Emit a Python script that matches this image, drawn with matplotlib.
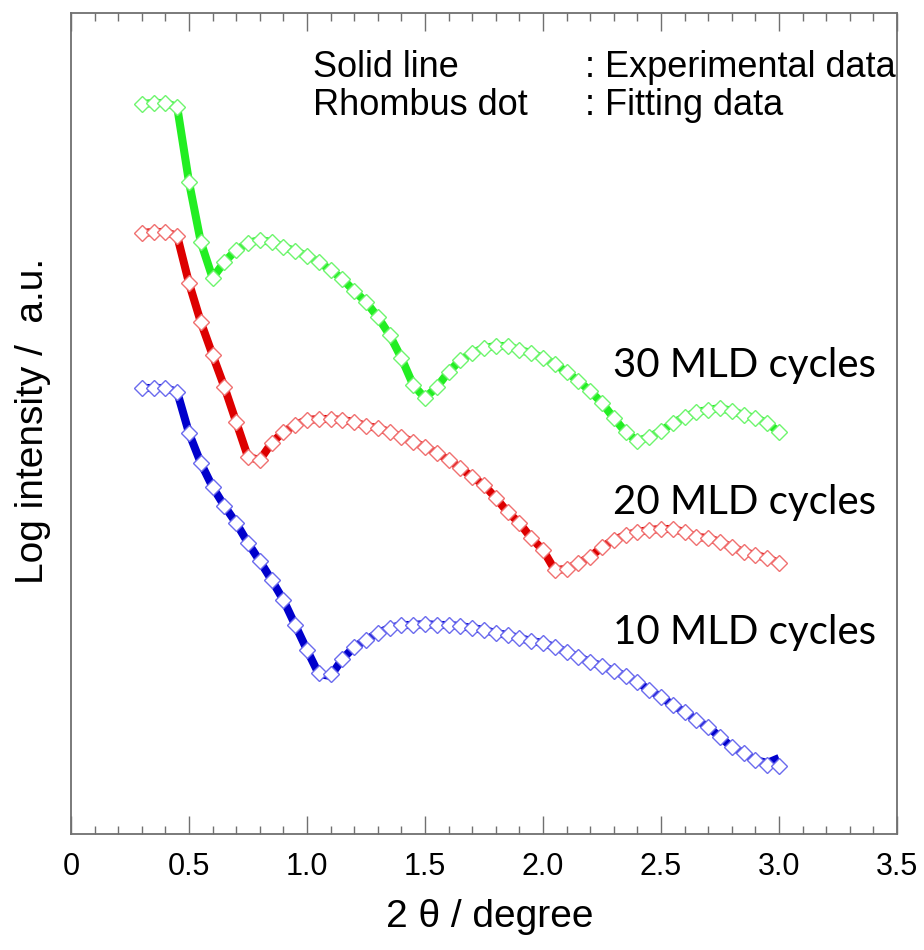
import matplotlib
matplotlib.use("Agg")
import matplotlib.pyplot as plt
import numpy as np

# 2theta grid (degree)
two_theta = [0.30, 0.35, 0.40, 0.45, 0.50, 0.55, 0.60, 0.65, 0.70, 0.75,
             0.80, 0.85, 0.90, 0.95, 1.00, 1.05, 1.10, 1.15, 1.20, 1.25,
             1.30, 1.35, 1.40, 1.45, 1.50, 1.55, 1.60, 1.65, 1.70, 1.75,
             1.80, 1.85, 1.90, 1.95, 2.00, 2.05, 2.10, 2.15, 2.20, 2.25,
             2.30, 2.35, 2.40, 2.45, 2.50, 2.55, 2.60, 2.65, 2.70, 2.75,
             2.80, 2.85, 2.90, 2.95, 3.00]

# log intensity (a.u., offset curves) - fitting data (rhombus dots)
fit_30 = [7.30, 7.31, 7.31, 7.27, 6.52, 5.92, 5.56, 5.72, 5.84, 5.91,
          5.94, 5.92, 5.87, 5.83, 5.78, 5.72, 5.64, 5.55, 5.43, 5.32,
          5.17, 4.99, 4.76, 4.49, 4.36, 4.47, 4.62, 4.74, 4.81, 4.86,
          4.88, 4.88, 4.84, 4.81, 4.76, 4.70, 4.62, 4.53, 4.43, 4.31,
          4.16, 4.02, 3.93, 3.97, 4.03, 4.11, 4.17, 4.22, 4.24, 4.26,
          4.23, 4.19, 4.16, 4.11, 4.02]
fit_20 = [6.01, 6.02, 6.02, 5.98, 5.51, 5.12, 4.79, 4.47, 4.12, 3.77,
          3.74, 3.91, 4.02, 4.09, 4.14, 4.15, 4.15, 4.14, 4.12, 4.08,
          4.06, 4.02, 3.97, 3.92, 3.87, 3.81, 3.74, 3.66, 3.57, 3.49,
          3.36, 3.22, 3.11, 2.96, 2.84, 2.64, 2.65, 2.71, 2.77, 2.87,
          2.94, 2.99, 3.02, 3.04, 3.05, 3.05, 3.02, 2.97, 2.96, 2.92,
          2.87, 2.82, 2.79, 2.76, 2.71]
fit_10 = [4.46, 4.46, 4.46, 4.42, 4.01, 3.71, 3.47, 3.28, 3.11, 2.91,
          2.73, 2.54, 2.34, 2.09, 1.84, 1.61, 1.60, 1.75, 1.87, 1.94,
          2.01, 2.06, 2.09, 2.09, 2.10, 2.09, 2.09, 2.08, 2.06, 2.04,
          2.01, 1.99, 1.96, 1.93, 1.91, 1.87, 1.82, 1.77, 1.72, 1.68,
          1.63, 1.58, 1.52, 1.44, 1.37, 1.29, 1.22, 1.14, 1.07, 0.97,
          0.87, 0.81, 0.74, 0.69, 0.68]

# experimental data (solid lines)
exp_30 = fit_30
exp_20 = fit_20
exp_10 = [4.46, 4.46, 4.46, 4.42, 4.01, 3.71, 3.47, 3.28, 3.11, 2.91,
          2.73, 2.54, 2.34, 2.09, 1.84, 1.60, 1.58, 1.75, 1.87, 1.94,
          2.01, 2.06, 2.09, 2.09, 2.10, 2.09, 2.09, 2.08, 2.06, 2.04,
          2.01, 1.99, 1.96, 1.93, 1.91, 1.87, 1.82, 1.77, 1.72, 1.68,
          1.63, 1.58, 1.52, 1.44, 1.37, 1.29, 1.22, 1.14, 1.07, 0.97,
          0.87, 0.81, 0.74, 0.71, 0.76]

series_labels = ["30 MLD cycles", "20 MLD cycles", "10 MLD cycles"]
line_colors = ["#22ee22", "#dd0000", "#0000cc"]
edge_colors = ["#6ef56e", "#f07070", "#6b6bee"]

x_ticks = [0, 0.5, 1.0, 1.5, 2.0, 2.5, 3.0, 3.5]
x_ticklabels = ["0", "0.5", "1.0", "1.5", "2.0", "2.5", "3.0", "3.5"]

fig = plt.figure(figsize=(9.24, 9.5), dpi=100)
ax = fig.add_axes([71/924, 1-834/950, (897-71)/924, (834-13)/950])

exps = [exp_30, exp_20, exp_10]
fits = [fit_30, fit_20, fit_10]
for e, f, lc, ec in zip(exps, fits, line_colors, edge_colors):
    ax.plot(two_theta, e, color=lc, lw=5.8, solid_capstyle='butt', zorder=2)
    ax.plot(two_theta, f, ls='none', marker='D', ms=7.8, mfc='white',
            mec=ec, mew=1.0, zorder=3)

ax.set_xlim(0, 3.5)
ax.set_ylim(0, 8.21)
ax.set_xticks(x_ticks)
ax.set_xticklabels(x_ticklabels, fontfamily='Liberation Sans', fontsize=22)
ax.set_xticks(np.arange(0, 3.51, 0.1), minor=True)
ax.set_yticks([])
ax.tick_params(axis='x', which='both', direction='in', top=True, bottom=True,
               color='#707070', width=1.0, pad=13)
ax.tick_params(axis='x', which='major', length=13)
ax.tick_params(axis='x', which='minor', length=6)
for s in ax.spines.values():
    s.set_color('#707070')
    s.set_linewidth(1.3)

def dx(px):
    return (px - 71) / 236.0

def dy(py):
    return (834 - py) / 100.0

# legend-like annotation
ax.text(dx(313), dy(77), "Solid line", fontfamily='Liberation Sans', fontsize=26, va='baseline')
ax.text(dx(585), dy(77), ": Experimental data", fontfamily='Liberation Sans', fontsize=26, va='baseline')
ax.text(dx(313), dy(115), "Rhombus dot", fontfamily='Liberation Sans', fontsize=26, va='baseline')
ax.text(dx(585), dy(115), ": Fitting data", fontfamily='Liberation Sans', fontsize=26, va='baseline')

# series labels
for lab, by in zip(series_labels, [377, 514, 644]):
    ax.text(dx(613), dy(by), lab, fontfamily='Lato', fontsize=29, va='baseline')

fig.text(490/924, 1-917/950, "2 \u03b8 / degree", fontfamily='Liberation Sans', fontsize=28,
         ha='center', va='center')
fig.text(33/924, 1-421/950, "Log intensity /  a.u.", fontfamily='Liberation Sans', fontsize=28,
         ha='center', va='center', rotation=90)

fig.savefig("out.png", dpi=100)
